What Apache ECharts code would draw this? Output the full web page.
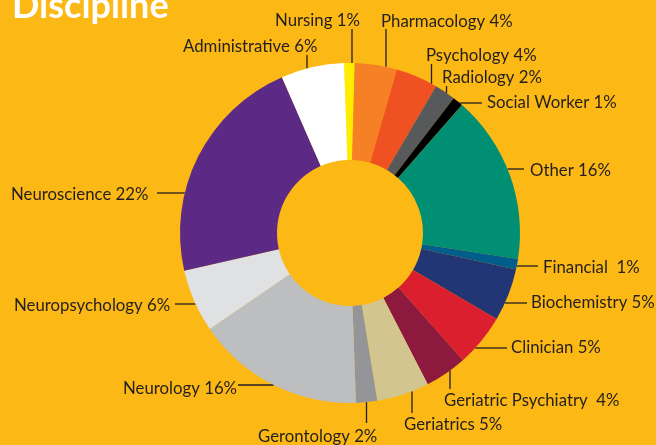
<!DOCTYPE html>
<html>
<head>
<meta charset="utf-8">
<script src="https://cdn.jsdelivr.net/npm/echarts@6/dist/echarts.min.js"></script>
<style>
html,body{margin:0;padding:0;background:#FCB814;}
#chart{width:656px;height:445px;}
</style>
</head>
<body>
<div id="chart"></div>
<script>
// ---- data ----
const names = ["Nursing","Pharmacology","Psychology","Radiology","Social Worker","Other","Financial","Biochemistry","Clinician","Geriatric Psychiatry","Geriatrics","Gerontology","Neurology","Neuropsychology","Neuroscience","Administrative"];
const values = [1,4,4,2,1,16,1,5,5,4,5,2,16,6,22,6];
const labelTexts = ["Nursing 1%","Pharmacology 4%","Psychology 4%","Radiology 2%","Social Worker 1%","Other 16%","Financial  1%","Biochemistry 5%","Clinician 5%","Geriatric Psychiatry  4%","Geriatrics 5%","Gerontology 2%","Neurology 16%","Neuropsychology 6%","Neuroscience 22%","Administrative 6%"];
const colors = ["#FFED00","#F58025","#F05123","#58595B","#000000","#008F72","#005E8C","#223574","#DC1F2E","#8D1A3E","#D2C58F","#939598","#BCBEC0","#E0E1E2","#5C2A84","#FFFFFF"];

// ---- layout (label text anchor, and where its leader starts) ----
const CX = 350, CY = 233, R_OUT = 170, R_IN = 73;
const labelSpots = [
  {tx:275, ty:21,  ax:352,   ay:29,  dir:'v'},
  {tx:381, ty:22,  ax:386,   ay:29,  dir:'v'},
  {tx:426, ty:56,  ax:431.5, ay:64,  dir:'v'},
  {tx:442, ty:78,  ax:446.5, ay:86,  dir:'v'},
  {tx:487, ty:103, ax:482,   ay:103, dir:'h'},
  {tx:530, ty:171, ax:524,   ay:169, dir:'h'},
  {tx:543, ty:268, ax:538,   ay:266, dir:'h'},
  {tx:531, ty:303, ax:527,   ay:303, dir:'h'},
  {tx:511, ty:348, ax:507,   ay:348, dir:'h'},
  {tx:444, ty:401, ax:450,   ay:389, dir:'v'},
  {tx:404, ty:425, ax:412,   ay:413, dir:'v'},
  {tx:258, ty:437, ax:366.5, ay:423, dir:'v'},
  {tx:123, ty:389, ax:238,   ay:385, dir:'h'},
  {tx:14,  ty:306, ax:175,   ay:304, dir:'h'},
  {tx:11,  ty:195, ax:157,   ay:193, dir:'h'},
  {tx:183, ty:47,  ax:307,   ay:55,  dir:'v'}
];

function edgePoint(s){
  if (s.dir === 'v') {
    const d = Math.sqrt(Math.max(0, R_OUT*R_OUT - (s.ax-CX)*(s.ax-CX)));
    return [s.ax, s.ay < CY ? CY - d : CY + d];
  } else {
    const d = Math.sqrt(Math.max(0, R_OUT*R_OUT - (s.ay-CY)*(s.ay-CY)));
    return [s.ax > CX ? CX + d : CX - d, s.ay];
  }
}

const chart = echarts.init(document.getElementById('chart'), null, {renderer:'canvas'});
chart.setOption({
  backgroundColor: '#FCB814',
  animation: false,
  graphic: [{
    type: 'text',
    x: 12, y: 24,
    style: {
      text: 'Discipline',
      fill: '#FFFFFF',
      font: 'bold 36px Lato',
      textVerticalAlign: 'bottom',
      verticalAlign: 'bottom'
    }
  }],
  series: [{
    type: 'pie',
    center: [CX, CY],
    radius: [R_IN, R_OUT],
    startAngle: 92,
    clockwise: true,
    avoidLabelOverlap: false,
    minShowLabelAngle: 0,
    itemStyle: { borderWidth: 0 },
    emphasis: { disabled: true },
    label: {
      show: true,
      position: 'outside',
      color: '#231F20',
      fontFamily: 'Lato',
      fontSize: 16.8,
      formatter: p => labelTexts[p.dataIndex]
    },
    labelLine: {
      show: true,
      lineStyle: { color: '#231F20', width: 1.3 }
    },
    labelLayout: function (p) {
      const s = labelSpots[p.dataIndex];
      return {
        x: s.tx, y: s.ty,
        align: 'left', verticalAlign: 'middle',
        hideOverlap: false,
        labelLinePoints: [edgePoint(s), [s.ax, s.ay], [s.ax, s.ay]]
      };
    },
    data: names.map((n, i) => ({ name: n, value: values[i], itemStyle: { color: colors[i] } }))
  }]
});
</script>
</body>
</html>
